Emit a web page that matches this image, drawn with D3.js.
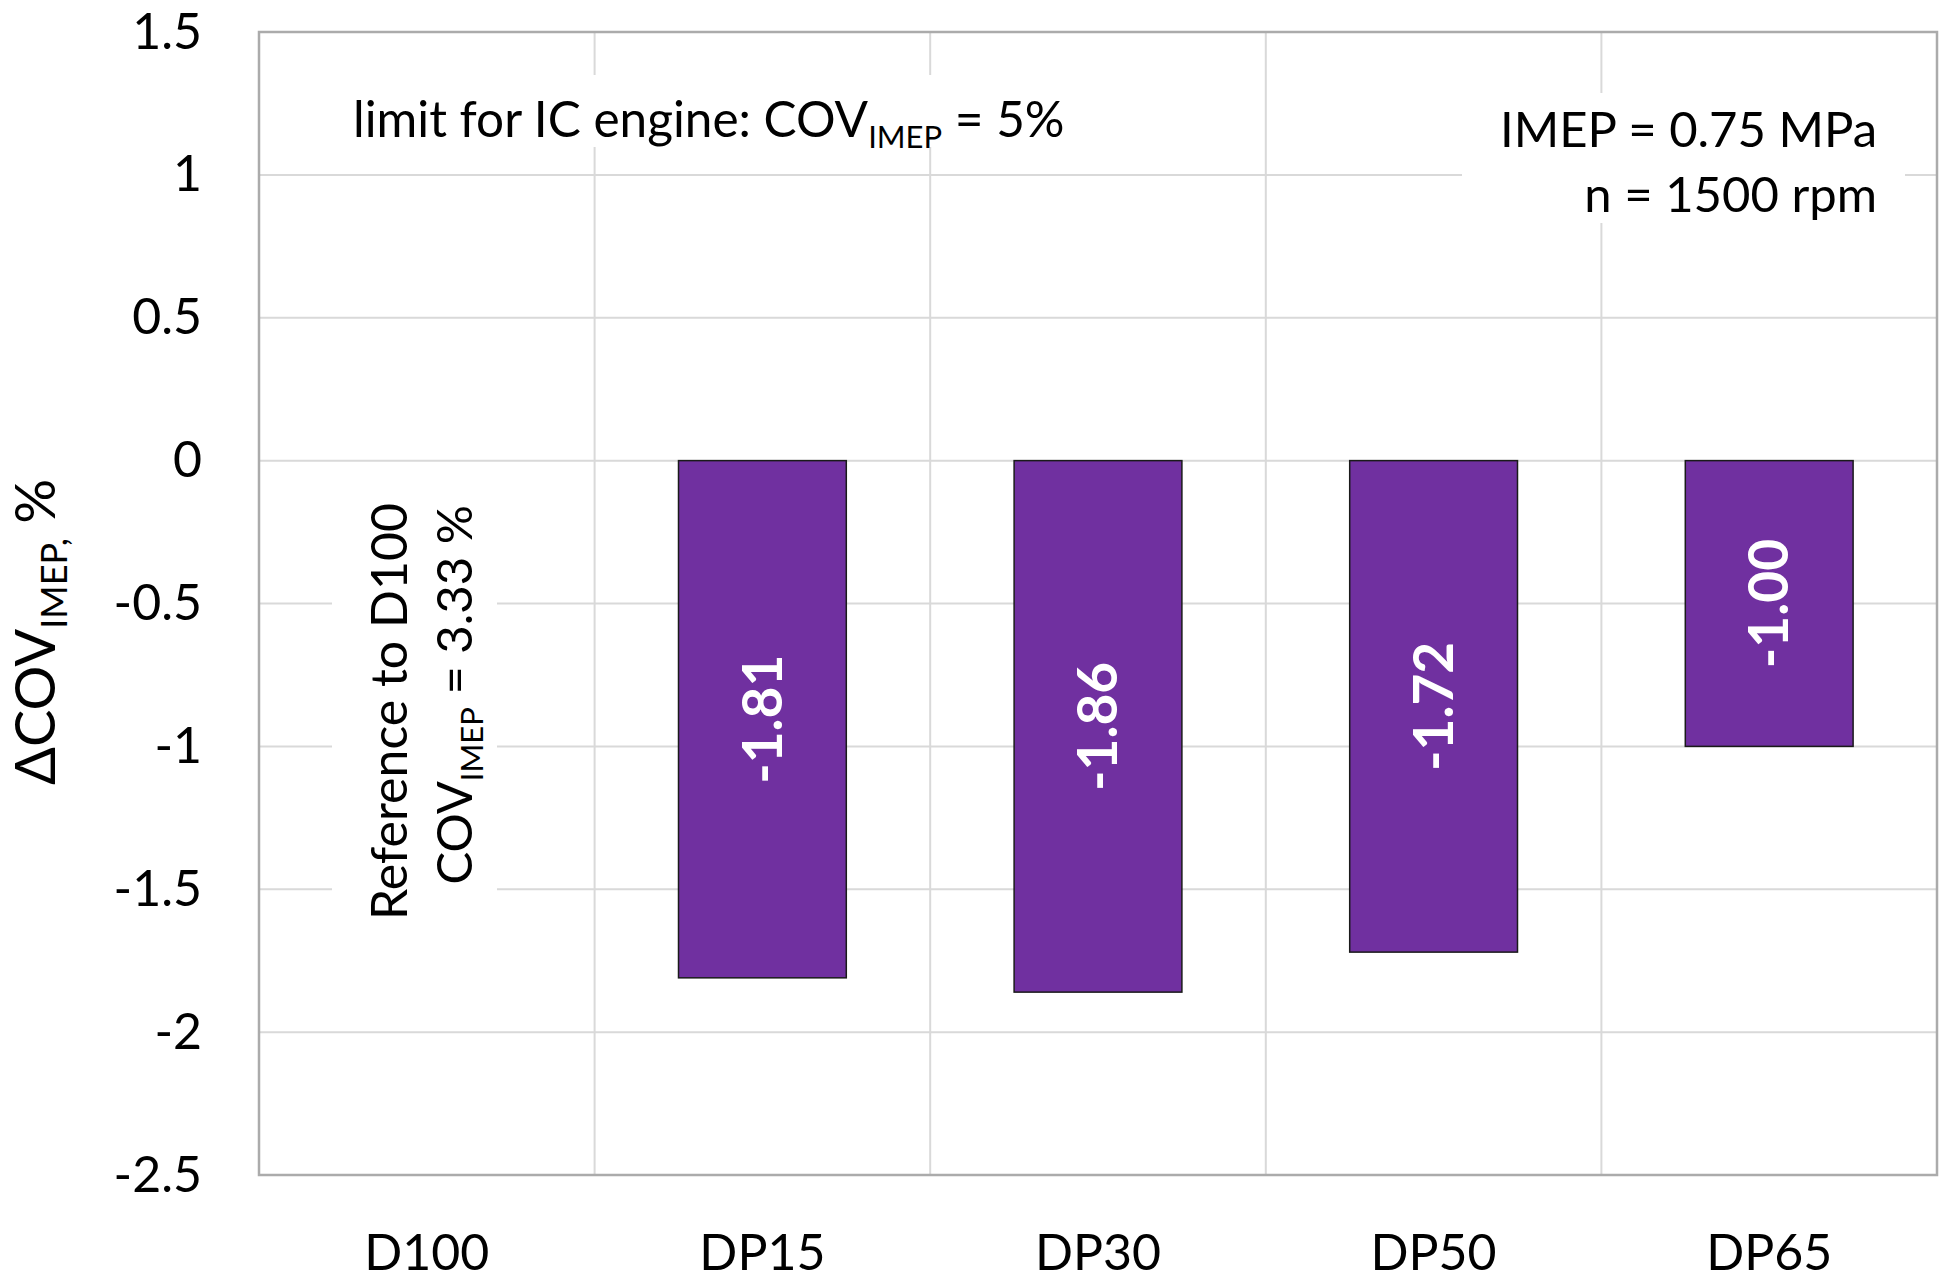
<!DOCTYPE html>
<html>
<head>
<meta charset="utf-8">
<script src="https://cdn.jsdelivr.net/npm/d3@7"></script>
<style>
  body { margin: 0; background: #fff; }
  svg { display: block; font-family: Lato, "DejaVu Sans", sans-serif; }
</style>
</head>
<body>
<svg id="chart"></svg>
<script>
// data
const categories = ['D100', 'DP15', 'DP30', 'DP50', 'DP65'];
const values = [null, -1.81, -1.86, -1.72, -1.00];
const yTicks = [1.5, 1, 0.5, 0, -0.5, -1, -1.5, -2, -2.5];

const width = 1950;
const height = 1282;
const plot = { left: 259, right: 1937, top: 32, bottom: 1175 };

const svg = d3.select('#chart')
  .attr('width', width)
  .attr('height', height);

const x = d3.scaleBand()
  .domain(categories)
  .range([plot.left, plot.right])
  .paddingInner(0.5)
  .paddingOuter(0.25);

const y = d3.scaleLinear()
  .domain([-2.5, 1.5])
  .range([plot.bottom, plot.top]);

const step = x.step();

// gridlines
svg.append('g')
  .selectAll('line')
  .data(yTicks)
  .enter()
  .append('line')
  .attr('x1', plot.left)
  .attr('x2', plot.right)
  .attr('y1', d => y(d))
  .attr('y2', d => y(d))
  .attr('stroke', '#d9d9d9')
  .attr('stroke-width', 2);

svg.append('g')
  .selectAll('line')
  .data(categories.slice(1))
  .enter()
  .append('line')
  .attr('x1', d => x(d) - step * 0.25)
  .attr('x2', d => x(d) - step * 0.25)
  .attr('y1', plot.top)
  .attr('y2', plot.bottom)
  .attr('stroke', '#d9d9d9')
  .attr('stroke-width', 2);

// white boxes behind the notes
svg.append('rect').attr('x', 340).attr('y', 75).attr('width', 740).attr('height', 72).attr('fill', '#fff');
svg.append('rect').attr('x', 1462).attr('y', 93).attr('width', 443).attr('height', 130).attr('fill', '#fff');
svg.append('rect').attr('x', 332).attr('y', 475).attr('width', 165).attr('height', 445).attr('fill', '#fff');

// y axis
const yAxis = d3.axisLeft(y)
  .tickValues(yTicks)
  .tickSize(0)
  .tickPadding(57)
  .tickFormat(d => String(d));

svg.append('g')
  .attr('transform', `translate(${plot.left},0)`)
  .call(yAxis)
  .call(g => g.select('.domain').remove())
  .selectAll('text')
  .attr('font-family', 'Lato, "DejaVu Sans", sans-serif')
  .attr('font-size', 50)
  .attr('fill', '#000');

// x axis
const xAxis = d3.axisBottom(x).tickSize(0);

svg.append('g')
  .attr('transform', `translate(0,${plot.bottom})`)
  .call(xAxis)
  .call(g => g.select('.domain').remove())
  .selectAll('text')
  .attr('font-family', 'Lato, "DejaVu Sans", sans-serif')
  .attr('font-size', 50)
  .attr('fill', '#000')
  .attr('y', 95)
  .attr('dy', 0);

// bars
const bars = categories.map((c, i) => ({ cat: c, value: values[i] })).filter(d => d.value !== null);

svg.append('g')
  .selectAll('rect')
  .data(bars)
  .enter()
  .append('rect')
  .attr('x', d => x(d.cat))
  .attr('y', d => y(Math.max(0, d.value)))
  .attr('width', x.bandwidth())
  .attr('height', d => Math.abs(y(d.value) - y(0)))
  .attr('fill', '#7030a0')
  .attr('stroke', '#1a1a1a')
  .attr('stroke-width', 1.5);

// bar labels, rotated, centred in the bar
svg.append('g')
  .selectAll('text')
  .data(bars)
  .enter()
  .append('text')
  .attr('transform', d => `translate(${x(d.cat) + x.bandwidth() / 2},${y(d.value / 2)}) rotate(-90)`)
  .attr('text-anchor', 'middle')
  .attr('dy', '0.35em')
  .attr('font-size', 55)
  .attr('font-weight', 'bold')
  .attr('fill', '#fff')
  .text(d => d.value.toFixed(2));

// y title
const title = svg.append('text')
  .attr('transform', 'translate(55,632) rotate(-90)')
  .attr('text-anchor', 'middle')
  .attr('font-size', 56)
  .attr('fill', '#000');
title.append('tspan').text('\u0394COV');
title.append('tspan').attr('font-size', 36).attr('dy', 12).text('IMEP,');
title.append('tspan').attr('dy', -12).text(' %');

// notes
const limit = svg.append('text')
  .attr('x', 353)
  .attr('y', 137)
  .attr('font-size', 49.5)
  .attr('fill', '#000');
limit.append('tspan').text('limit for IC engine: COV');
limit.append('tspan').attr('font-size', 31).attr('dy', 11).text('IMEP');
limit.append('tspan').attr('dy', -11).text(' = 5%');

svg.append('text')
  .attr('x', 1877).attr('y', 147)
  .attr('text-anchor', 'end')
  .attr('font-size', 49)
  .text('IMEP = 0.75 MPa');
svg.append('text')
  .attr('x', 1877).attr('y', 212)
  .attr('text-anchor', 'end')
  .attr('font-size', 49)
  .text('n = 1500 rpm');

svg.append('text')
  .attr('transform', 'translate(407,503) rotate(-90)')
  .attr('text-anchor', 'end')
  .attr('font-size', 50)
  .text('Reference to D100');
const ref2 = svg.append('text')
  .attr('transform', 'translate(472,505) rotate(-90)')
  .attr('text-anchor', 'end')
  .attr('font-size', 49);
ref2.append('tspan').text('COV');
ref2.append('tspan').attr('font-size', 31).attr('dy', 11).text('IMEP');
ref2.append('tspan').attr('dy', -11).text(' = 3.33 %');

// plot border
svg.append('rect')
  .attr('x', plot.left)
  .attr('y', plot.top)
  .attr('width', plot.right - plot.left)
  .attr('height', plot.bottom - plot.top)
  .attr('fill', 'none')
  .attr('stroke', '#ababab')
  .attr('stroke-width', 2.5);
</script>
</body>
</html>
